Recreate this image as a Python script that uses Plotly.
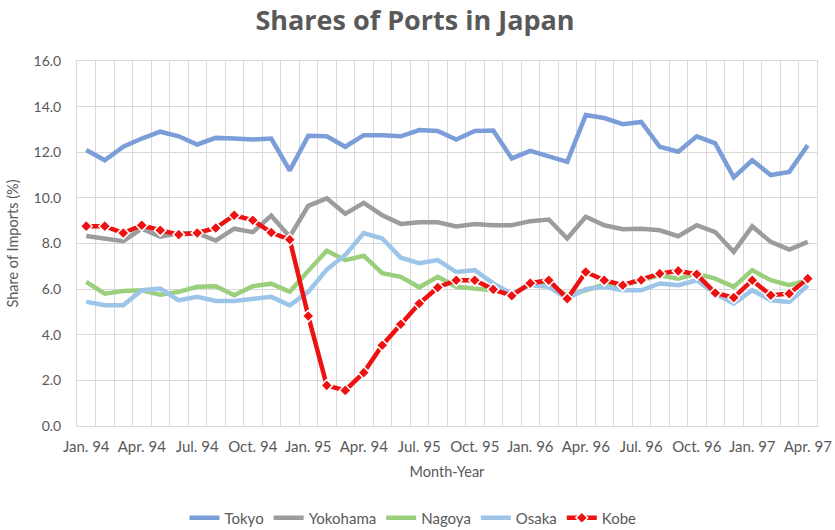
import plotly.graph_objects as go

months = list(range(40))
tick_positions = list(range(0, 40, 3))
tick_labels = ["Jan. 94", "Apr. 94", "Jul. 94", "Oct. 94", "Jan. 95", "Apr. 94", "Jul. 95",
               "Oct. 95", "Jan. 96", "Apr. 96", "Jul. 96", "Oct. 96", "Jan. 97", "Apr. 97"]

tokyo = [12.1, 11.65, 12.24, 12.6, 12.9, 12.7, 12.34, 12.63, 12.6, 12.56,
         12.6, 11.2, 12.72, 12.7, 12.24, 12.75, 12.75, 12.7, 12.97, 12.93,
         12.56, 12.93, 12.95, 11.73, 12.06, 11.83, 11.58, 13.63, 13.5, 13.23,
         13.33, 12.24, 12.02, 12.7, 12.39, 10.9, 11.65, 11.0, 11.14, 12.31]
yokohama = [8.33, 8.22, 8.1, 8.65, 8.3, 8.45, 8.45, 8.13, 8.65, 8.5,
            9.22, 8.3, 9.65, 9.98, 9.3, 9.78, 9.24, 8.86, 8.93, 8.93,
            8.75, 8.85, 8.8, 8.8, 8.98, 9.05, 8.22, 9.17, 8.8, 8.63,
            8.65, 8.58, 8.32, 8.8, 8.5, 7.63, 8.75, 8.07, 7.73, 8.07]
nagoya = [6.32, 5.8, 5.92, 5.95, 5.75, 5.88, 6.1, 6.13, 5.73, 6.13,
          6.24, 5.88, 6.8, 7.68, 7.27, 7.46, 6.7, 6.54, 6.08, 6.54,
          6.1, 6.03, 5.95, 5.8, 6.21, 6.17, 5.73, 5.95, 6.2, 6.17,
          6.39, 6.61, 6.46, 6.68, 6.46, 6.1, 6.83, 6.39, 6.17, 6.39]
osaka = [5.44, 5.29, 5.29, 5.95, 6.02, 5.51, 5.66, 5.48, 5.48, 5.58,
         5.66, 5.29, 5.88, 6.86, 7.49, 8.46, 8.22, 7.38, 7.14, 7.27,
         6.75, 6.83, 6.25, 5.8, 6.17, 6.1, 5.59, 6.0, 6.1, 5.95,
         5.95, 6.25, 6.17, 6.39, 5.8, 5.37, 5.95, 5.51, 5.44, 6.17]
kobe = [8.76, 8.76, 8.46, 8.8, 8.58, 8.39, 8.46, 8.68, 9.24, 9.02,
        8.48, 8.17, 4.82, 1.78, 1.56, 2.34, 3.54, 4.46, 5.37, 6.07,
        6.39, 6.39, 5.99, 5.71, 6.26, 6.39, 5.58, 6.75, 6.39, 6.17,
        6.4, 6.68, 6.8, 6.65, 5.83, 5.63, 6.39, 5.73, 5.8, 6.46]

series = [("Tokyo", tokyo, "#7B9ED8"),
          ("Yokohama", yokohama, "#9C9C9C"),
          ("Nagoya", nagoya, "#9ACF7C"),
          ("Osaka", osaka, "#9DC5EA")]

FONT = "Lato, 'Open Sans', sans-serif"
GRAY = "#595959"

fig = go.Figure()
for name, vals, col in series:
    fig.add_trace(go.Scatter(x=months, y=vals, name=name, mode="lines",
                             line=dict(color=col, width=4.5)))
fig.add_trace(go.Scatter(x=months, y=kobe, name="Kobe", mode="lines+markers",
                         line=dict(color="#EE1111", width=4.5),
                         marker=dict(symbol="diamond", size=9, color="#EE1111",
                                     line=dict(color="white", width=1.5))))

fig.update_layout(
    width=835, height=530,
    paper_bgcolor="white", plot_bgcolor="white",
    margin=dict(l=77, r=18, t=61, b=104, autoexpand=False),
    title=dict(text="<b>Shares of Ports in Japan</b>", x=0.497, xanchor="center",
               y=0.961, yanchor="middle",
               font=dict(family="'Open Sans', sans-serif", size=27, color=GRAY)),
    font=dict(family=FONT, color=GRAY, size=14),
    legend=dict(orientation="h", x=0.454, xanchor="center", y=-0.252, yanchor="middle",
                font=dict(size=15, color=GRAY), itemwidth=30, traceorder="normal"),
    showlegend=True,
)
fig.update_xaxes(
    range=[-0.5, 39.5], tickmode="array", tickvals=tick_positions, ticktext=tick_labels,
    showgrid=False, zeroline=False, showline=True, linecolor="#D9D9D9", linewidth=1,
    ticks="", tickfont=dict(size=15, color=GRAY), mirror=True, ticklabelstandoff=7,
    automargin=False,
    minor=dict(tick0=-0.5, dtick=1, showgrid=True, gridcolor="#D9D9D9", gridwidth=1),
    title=dict(text="Month-Year", font=dict(size=14.5, color=GRAY), standoff=12),
)
fig.update_yaxes(
    range=[0, 16], dtick=2, tickformat=".1f", showgrid=True, gridcolor="#D9D9D9",
    gridwidth=1, zeroline=False, showline=True, linecolor="#D9D9D9", mirror=True,
    ticks="", tickfont=dict(size=14, color=GRAY), ticklabelstandoff=12,
    automargin=False,
    title=dict(text="Share of Imports (%)", font=dict(size=14.5, color=GRAY), standoff=11),
)

fig.write_html("out.html", config={"displayModeBar": False},
               post_script="document.body.style.margin='0';")
